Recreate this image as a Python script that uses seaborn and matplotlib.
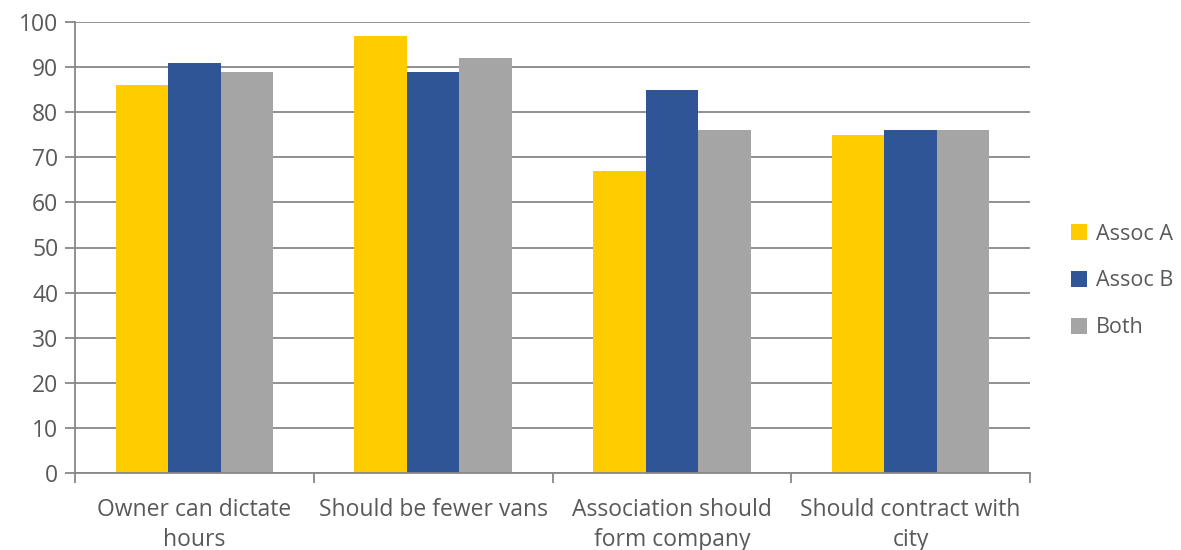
import matplotlib
matplotlib.use("Agg")
import matplotlib.pyplot as plt
import seaborn as sns
import pandas as pd
from matplotlib.ticker import FixedLocator

categories = ["Owner can dictate\nhours", "Should be fewer vans",
              "Association should\nform company", "Should contract with\ncity"]
series_names = ["Assoc A", "Assoc B", "Both"]
assoc_a = [86, 97, 67, 75]
assoc_b = [91, 89, 85, 76]
both = [89, 92, 76, 76]
y_ticks = list(range(0, 101, 10))

colors = ["#FFCC00", "#2F5597", "#A5A5A5"]
text_color = "#595959"
grid_color = "#888888"
font_size = 16.5

rows = []
for name, vals in zip(series_names, [assoc_a, assoc_b, both]):
    for cat, v in zip(categories, vals):
        rows.append({"category": cat, "series": name, "value": v})
df = pd.DataFrame(rows)

sns.set_theme(style="white")
plt.rcParams["font.family"] = ["Open Sans", "DejaVu Sans"]

fig = plt.figure(figsize=(11.81, 5.5), dpi=100)
ax = fig.add_axes([75 / 1181, 1 - 473 / 550, (1030 - 75) / 1181, (473 - 22) / 550])

sns.barplot(data=df, x="category", y="value", hue="series", order=categories,
            hue_order=series_names, palette=colors, width=0.66, gap=0,
            saturation=1, ax=ax, legend=True, linewidth=0)

ax.set_ylim(0, 100)
ax.set_xlim(-0.5, len(categories) - 0.5)
ax.set_yticks(y_ticks)
ax.yaxis.grid(True, color=grid_color, linewidth=1.3)
ax.set_axisbelow(True)
ax.set_xlabel("")
ax.set_ylabel("")

for side in ["top", "right"]:
    ax.spines[side].set_visible(False)
for side in ["left", "bottom"]:
    ax.spines[side].set_color(grid_color)
    ax.spines[side].set_linewidth(1.3)

ax.tick_params(axis="y", which="major", length=7, width=1.3, color=grid_color,
               labelsize=font_size, labelcolor=text_color, pad=5, direction="out", left=True)
ax.tick_params(axis="x", which="major", length=0, labelsize=font_size,
               labelcolor=text_color, pad=18)
for lbl in ax.get_xticklabels():
    lbl.set_linespacing(1.35)
ax.xaxis.set_minor_locator(FixedLocator([i - 0.5 for i in range(len(categories) + 1)]))
ax.tick_params(axis="x", which="minor", length=7, width=1.3, color=grid_color,
               direction="out", bottom=True)

handles, labels = ax.get_legend_handles_labels()
ax.get_legend().remove()
fig.legend(handles, labels, loc="center left", bbox_to_anchor=(1071 / 1181, 1 - 281 / 550),
           frameon=False, fontsize=15.5, labelcolor=text_color, handlelength=0.75,
           handleheight=0.75, handletextpad=0.4, labelspacing=1.2, borderpad=0,
           borderaxespad=0)

fig.savefig("out.png", dpi=100)
